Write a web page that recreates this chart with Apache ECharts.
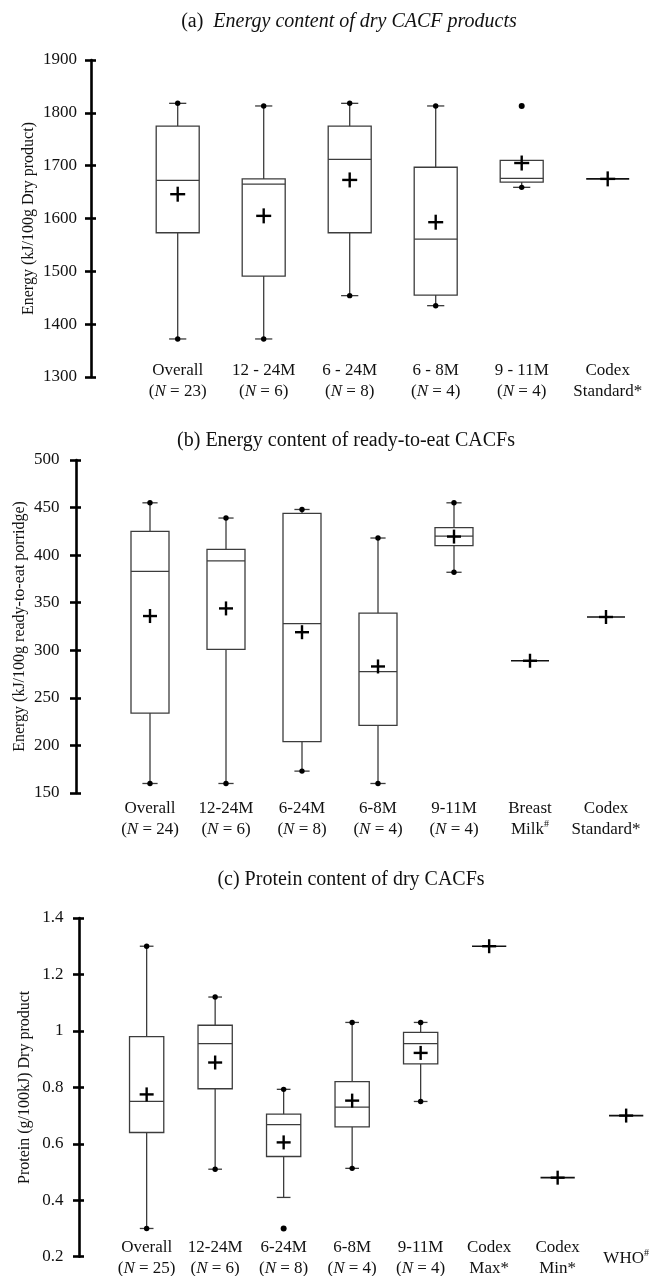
<!DOCTYPE html>
<html>
<head>
<meta charset="utf-8">
<script src="https://cdn.jsdelivr.net/npm/echarts@6/dist/echarts.min.js"></script>
<style>
  html, body { margin: 0; padding: 0; background: #fff; }
  #chart { width: 656px; height: 1276px; }
</style>
</head>
<body>
<div id="chart"></div>
<script>
const FONT = 'Liberation Serif';

// ---- (a) Energy content of dry products (kJ/100 g) ----
const categoriesA = ['Overall', '12 - 24M', '6 - 24M', '6 - 8M', '9 - 11M', 'Codex Standard*'];
const countsA = [23, 6, 8, 4, 4, null];
// [min, Q1, median, Q3, max]
const boxA = [
  [1372, 1573, 1672, 1775, 1818],
  [1372, 1491, 1665, 1675, 1813],
  [1454, 1573, 1712, 1775, 1818],
  [1435, 1455, 1561, 1697, 1813],
  [1659, 1669, 1676, 1710, 1710]
];
const meanA = [1646, 1605, 1673, 1593, 1705];
const outliersA = [[4, 1813]];
const referenceA = [[5, 1675]];
const rangeA = { min: 1300, max: 1900, interval: 100 };

// ---- (b) Energy content of ready-to-eat porridge (kJ/100 g) ----
const categoriesB = ['Overall', '12-24M', '6-24M', '6-8M', '9-11M', 'Breast Milk#', 'Codex Standard*'];
const countsB = [24, 6, 8, 4, 4, null, null];
const boxB = [
  [160, 234, 383, 425, 455],
  [160, 301, 394, 406, 439],
  [173, 204, 328, 444, 448],
  [160, 221, 277.5, 339, 418],
  [382, 410, 420, 429, 455]
];
const meanB = [336, 344, 319, 283, 419.5];
const outliersB = [];
const referenceB = [[5, 289], [6, 335]];
const rangeB = { min: 150, max: 500, interval: 50 };

// ---- (c) Protein content of dry products (g/100 kJ) ----
const categoriesC = ['Overall', '12-24M', '6-24M', '6-8M', '9-11M', 'Codex Max*', 'Codex Min*', 'WHO#'];
const countsC = [25, 6, 8, 4, 4, null, null, null];
const boxC = [
  [0.30, 0.64, 0.75, 0.98, 1.30],
  [0.51, 0.795, 0.955, 1.02, 1.12],
  [0.41, 0.555, 0.668, 0.705, 0.793],
  [0.513, 0.66, 0.73, 0.82, 1.03],
  [0.75, 0.883, 0.955, 0.995, 1.03]
];
const meanC = [0.775, 0.888, 0.605, 0.753, 0.922];
const outliersC = [[2, 0.3]];
const referenceC = [[5, 1.30], [6, 0.48], [7, 0.70]];
const rangeC = { min: 0.2, max: 1.4, interval: 0.2 };

const INK = '#111';
const BOX_LINE = '#3c3c3c';

// Combine a group's summary, mean and whisker-end dot flags into one row
function boxRows(boxes, means, outliers) {
  return boxes.map(function (b, i) {
    const lowOut = outliers.some(function (o) { return o[0] === i && o[1] < b[0]; });
    const highOut = outliers.some(function (o) { return o[0] === i && o[1] > b[4]; });
    return [i, b[0], b[1], b[2], b[3], b[4], means[i], lowOut ? 0 : 1, highOut ? 0 : 1];
  });
}

function plusShape(x, y, h) {
  const s = { stroke: '#000', lineWidth: 2.4 };
  return [
    { type: 'line', shape: { x1: x - h, y1: y, x2: x + h, y2: y }, style: s },
    { type: 'line', shape: { x1: x, y1: y - h, x2: x, y2: y + h }, style: s }
  ];
}

function dotShape(x, y) {
  return { type: 'circle', shape: { cx: x, cy: y, r: 2.7 }, style: { fill: '#000' } };
}

function boxRenderer(plusHalf) {
  return function (params, api) {
    const i = api.value(0);
    const band = api.size([1, 0])[0];
    const hw = band * 0.25;
    const cw = band * 0.1;
    const cx = api.coord([i, api.value(3)])[0];
    const y = function (k) { return api.coord([i, api.value(k)])[1]; };
    const yMin = y(1), yQ1 = y(2), yMed = y(3), yQ3 = y(4), yMax = y(5), yMean = y(6);
    const line = { stroke: BOX_LINE, lineWidth: 1.3 };
    const kids = [];
    if (yMax < yQ3 - 0.5) {
      kids.push({ type: 'line', shape: { x1: cx, y1: yMax, x2: cx, y2: yQ3 }, style: line });
      kids.push({ type: 'line', shape: { x1: cx - cw, y1: yMax, x2: cx + cw, y2: yMax }, style: line });
      if (api.value(8)) kids.push(dotShape(cx, yMax));
    }
    if (yMin > yQ1 + 0.5) {
      kids.push({ type: 'line', shape: { x1: cx, y1: yQ1, x2: cx, y2: yMin }, style: line });
      kids.push({ type: 'line', shape: { x1: cx - cw, y1: yMin, x2: cx + cw, y2: yMin }, style: line });
      if (api.value(7)) kids.push(dotShape(cx, yMin));
    }
    kids.push({ type: 'rect', shape: { x: cx - hw, y: yQ3, width: hw * 2, height: yQ1 - yQ3 },
      style: { fill: '#fff', stroke: BOX_LINE, lineWidth: 1.3 } });
    kids.push({ type: 'line', shape: { x1: cx - hw, y1: yMed, x2: cx + hw, y2: yMed }, style: line });
    return { type: 'group', children: kids.concat(plusShape(cx, yMean, plusHalf)) };
  };
}

function referenceRenderer(plusHalf) {
  return function (params, api) {
    const band = api.size([1, 0])[0];
    const hw = band * 0.25;
    const p = api.coord([api.value(0), api.value(1)]);
    const kids = [{ type: 'line', shape: { x1: p[0] - hw, y1: p[1], x2: p[0] + hw, y2: p[1] },
      style: { stroke: INK, lineWidth: 1.6 } }];
    return { type: 'group', children: kids.concat(plusShape(p[0], p[1], plusHalf)) };
  };
}

function categoryLabel(counts) {
  return function (value, idx) {
    const n = counts[idx];
    if (n != null) return value + '\n({it|N} = ' + n + ')';
    const parts = value.split(' ');
    const text = parts.length > 1 ? parts[0] + '\n' + parts.slice(1).join(' ') : value;
    return text.replace('#', '{sup|#}');
  };
}

const labelRich = {
  it: { fontFamily: FONT, fontSize: 17, fontStyle: 'italic', color: INK },
  sup: { fontFamily: FONT, fontSize: 10, color: INK, verticalAlign: 'top', padding: [0, 0, 6, 0] }
};

function xAxisFor(gridIndex, categories, counts, margin) {
  return {
    type: 'category', gridIndex: gridIndex, data: categories, boundaryGap: true,
    axisLine: { show: false }, axisTick: { show: false }, splitLine: { show: false },
    axisLabel: {
      interval: 0, margin: margin, verticalAlign: 'middle', lineHeight: 20.5,
      fontFamily: FONT, fontSize: 17, color: INK,
      formatter: categoryLabel(counts), rich: labelRich
    }
  };
}

function yAxesFor(gridIndex, range, name, offset, nameGap, labelMargin) {
  const base = {
    type: 'value', gridIndex: gridIndex, position: 'left', offset: offset,
    min: range.min, max: range.max, interval: range.interval,
    splitLine: { show: false }
  };
  return [
    Object.assign({}, base, {
      name: name, nameLocation: 'middle', nameGap: nameGap, nameRotate: 90,
      nameMoveOverlap: false,
      nameTextStyle: { fontFamily: FONT, fontSize: 16, color: INK },
      axisLine: { show: true, lineStyle: { color: '#000', width: 2.6 } },
      axisTick: { show: true, inside: false, length: 6, lineStyle: { color: '#000', width: 2.6 } },
      axisLabel: {
        margin: labelMargin, fontFamily: FONT, fontSize: 17, color: INK,
        formatter: function (v) { return String(+v.toFixed(4)); }
      }
    }),
    Object.assign({}, base, {
      axisLine: { show: false },
      axisTick: { show: true, inside: true, length: 5, lineStyle: { color: '#000', width: 2.6 } },
      axisLabel: { show: false }
    })
  ];
}

function panelSeries(axisIdx, yIdx, boxes, means, outliers, references, plusHalf) {
  return [
    {
      type: 'custom', xAxisIndex: axisIdx, yAxisIndex: yIdx,
      renderItem: boxRenderer(plusHalf),
      encode: { x: 0, y: [1, 5] },
      data: boxRows(boxes, means, outliers), silent: true
    },
    {
      type: 'custom', xAxisIndex: axisIdx, yAxisIndex: yIdx,
      renderItem: referenceRenderer(plusHalf),
      encode: { x: 0, y: 1 },
      data: references, silent: true
    },
    {
      type: 'scatter', xAxisIndex: axisIdx, yAxisIndex: yIdx,
      symbol: 'circle', symbolSize: 6, itemStyle: { color: '#000', opacity: 1 },
      data: outliers, silent: true
    }
  ];
}

const titleStyle = { fontFamily: FONT, fontSize: 20, fill: INK, textAlign: 'center', textVerticalAlign: 'middle' };

const option = {
  backgroundColor: '#fff',
  animation: false,
  graphic: [
    { type: 'text', x: 349, y: 22, style: Object.assign({}, titleStyle, {
        text: '(a)  {it|Energy content of dry CACF products}',
        rich: { it: { fontFamily: FONT, fontSize: 20, fontStyle: 'italic', fill: INK } } }) },
    { type: 'text', x: 346, y: 441, style: Object.assign({}, titleStyle, {
        text: '(b) Energy content of ready-to-eat CACFs' }) },
    { type: 'text', x: 351, y: 880, style: Object.assign({}, titleStyle, {
        text: '(c) Protein content of dry CACFs' }) }
  ],
  grid: [
    { left: 134.7, width: 516, top: 60, height: 317, outerBoundsMode: 'none' },
    { left: 112, width: 532, top: 460, height: 333, outerBoundsMode: 'none' },
    { left: 112.4, width: 548, top: 918, height: 338.7, outerBoundsMode: 'none' }
  ],
  xAxis: [
    xAxisFor(0, categoriesA, countsA, 4),
    xAxisFor(1, categoriesB, countsB, 26),
    xAxisFor(2, categoriesC, countsC, 1.5)
  ],
  yAxis: []
    .concat(yAxesFor(0, rangeA, 'Energy (kJ/100g Dry product)', 43.7, 54, 14))
    .concat(yAxesFor(1, rangeB, 'Energy (kJ/100g ready-to-eat porridge)', 36, 48, 16.5))
    .concat(yAxesFor(2, rangeC, 'Protein (g/100kJ) Dry product', 33.4, 46, 15.5)),
  series: []
    .concat(panelSeries(0, 0, boxA, meanA, outliersA, referenceA, 7.5))
    .concat(panelSeries(1, 2, boxB, meanB, outliersB, referenceB, 7))
    .concat(panelSeries(2, 4, boxC, meanC, outliersC, referenceC, 7))
};

const chart = echarts.init(document.getElementById('chart'), null, { renderer: 'canvas' });
chart.setOption(option);
</script>
</body>
</html>
